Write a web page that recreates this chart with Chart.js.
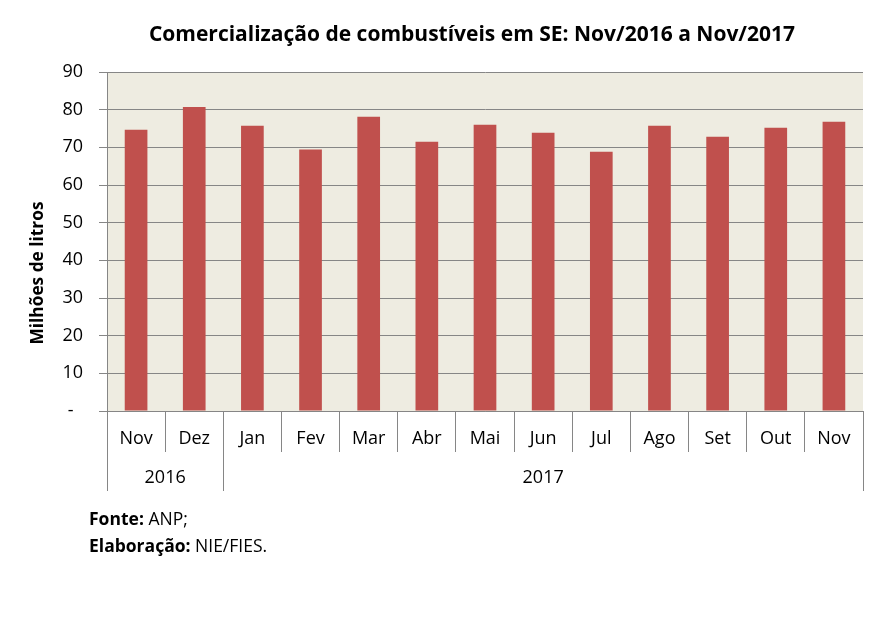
<!DOCTYPE html>
<html>
<head>
<meta charset="utf-8">
<script src="https://cdn.jsdelivr.net/npm/chart.js@4.4.1/dist/chart.umd.min.js"></script>
<style>
  body { margin: 0; background: #fff; }
  #wrap { position: relative; width: 886px; height: 628px; }
  .nota { position: absolute; left: 89px; font-family: 'Open Sans', sans-serif; font-size: 17.5px; color: #000; white-space: nowrap; }
</style>
</head>
<body>
<div id="wrap">
  <canvas id="myChart" width="886" height="628"></canvas>
  <div class="nota" style="top:506px"><b>Fonte:</b> ANP;</div>
  <div class="nota" style="top:533px"><b>Elaboração:</b> NIE/FIES.</div>
</div>
<script>
// dados (milhões de litros)
const meses = ['Nov', 'Dez', 'Jan', 'Fev', 'Mar', 'Abr', 'Mai', 'Jun', 'Jul', 'Ago', 'Set', 'Out', 'Nov'];
const valores = [74.7, 80.7, 75.7, 69.4, 78.1, 71.5, 76.0, 73.9, 68.8, 75.7, 72.8, 75.2, 76.8];
const anos = ['2016', '2017'];
const mesesPorAno = [2, 11];
const yTicks = [0, 10, 20, 30, 40, 50, 60, 70, 80, 90];

const titulo = 'Comercialização de combustíveis em SE: Nov/2016 a Nov/2017';
const tituloY = 'Milhões de litros';
const fonte = "'Open Sans', sans-serif";
const cinza = '#868686';

// fundo da área do gráfico, anos, linhas separadoras e títulos
const extras = {
  id: 'extras',
  beforeDraw(chart) {
    const a = chart.chartArea;
    const c = chart.ctx;
    c.save();
    c.fillStyle = '#EEECE1';
    c.fillRect(a.left, a.top, a.right - a.left, a.bottom - a.top);
    c.restore();
  },
  afterDraw(chart) {
    const c = chart.ctx;
    const x = chart.scales.x;
    const larg = x.width / meses.length;
    c.save();
    c.strokeStyle = cinza;
    c.lineWidth = 1;
    c.fillStyle = '#000';
    c.font = '18px ' + fonte;
    c.textAlign = 'center';
    c.textBaseline = 'middle';
    let ini = 0;
    anos.forEach((ano, i) => {
      const fim = ini + mesesPorAno[i];
      const x0 = x.getPixelForValue(ini) - larg / 2;
      const x1 = x.getPixelForValue(fim - 1) + larg / 2;
      c.fillText(ano, (x0 + x1) / 2, 478);
      [x0, x1].forEach(px => {
        const p = Math.round(px) + 0.5;
        c.beginPath();
        c.moveTo(p, x.top);
        c.lineTo(p, 491);
        c.stroke();
      });
      ini = fim;
    });

    // título
    c.font = 'bold 21px ' + fonte;
    c.fillText(titulo, 472, 35);

    // título do eixo Y
    c.translate(38, 273);
    c.rotate(-Math.PI / 2);
    c.font = 'bold 17.3px ' + fonte;
    c.fillText(tituloY, 0, 0);
    c.restore();
  }
};

const ctx = document.getElementById('myChart').getContext('2d');

new Chart(ctx, {
  type: 'bar',
  data: {
    labels: meses,
    datasets: [{
      label: tituloY,
      data: valores,
      backgroundColor: '#C0504D',
      categoryPercentage: 1,
      barPercentage: 0.39
    }]
  },
  options: {
    responsive: false,
    animation: false,
    layout: {
      padding: { left: 0, right: 23, top: 72, bottom: 137 }
    },
    scales: {
      x: {
        afterFit: s => { s.height = 80; },
        border: { display: true, color: cinza },
        grid: {
          offset: true,
          drawOnChartArea: false,
          tickLength: 41,
          color: cinza
        },
        ticks: {
          padding: -24,
          color: '#000',
          font: { family: fonte, size: 18 }
        }
      },
      y: {
        min: 0,
        max: 90,
        afterFit: s => { s.width = 107; },
        afterBuildTicks: s => { s.ticks = yTicks.map(v => ({ value: v })); },
        border: { display: true, color: cinza },
        grid: {
          color: cinza,
          tickLength: 8
        },
        ticks: {
          padding: 16,
          color: '#000',
          font: { family: fonte, size: 18 },
          // formato contábil: zero aparece como traço
          callback: v => v === 0 ? '-  ' : v
        }
      }
    },
    plugins: {
      legend: { display: false },
      tooltip: { enabled: false }
    }
  },
  plugins: [extras]
});
</script>
</body>
</html>
